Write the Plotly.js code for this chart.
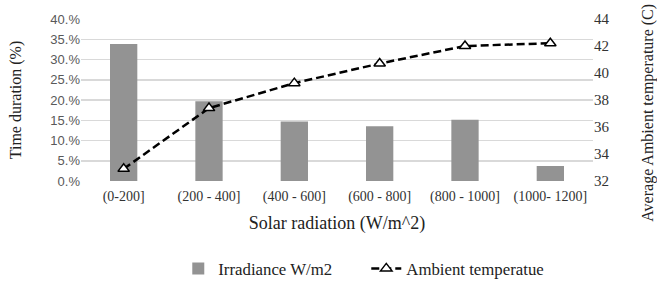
<!DOCTYPE html>
<html><head><meta charset="utf-8">
<script src="https://cdn.plot.ly/plotly-3.0.1.min.js"></script>
<style>html,body{margin:0;padding:0;background:#fff}#c{width:657px;height:281px}</style>
</head><body><div id="c"></div>
<script>
const categories = ["(0-200]", "(200 - 400]", "(400 - 600]", "(600 - 800]", "(800 - 1000]", "(1000- 1200]"];
const durationPct = [0.338, 0.197, 0.147, 0.135, 0.151, 0.037];
const ambientTemp = [32.9, 37.4, 39.25, 40.7, 42.0, 42.2];
const leftTickVals = [0, 0.05, 0.10, 0.15, 0.20, 0.25, 0.30, 0.35, 0.40];
const leftTickText = ["0.%", "5.%", "10.%", "15.%", "20.%", "25.%", "30.%", "35.%", "40.%"];
const rightTickVals = [32, 34, 36, 38, 40, 42, 44];

const serif = "'Liberation Serif', 'Times New Roman', serif";
const traces = [
  {type: "bar", x: categories, y: durationPct, name: "Irradiance W/m2",
   marker: {color: "#939393"}, width: 0.32, yaxis: "y"},
  {type: "scatter", mode: "lines+markers", x: categories, y: ambientTemp, name: "Ambient temperatue",
   yaxis: "y2", line: {color: "#000", width: 2.5, dash: "8px,4px"},
   marker: {symbol: "triangle-up", size: 10, color: "#fff", line: {color: "#000", width: 1.5}}}
];
const layout = {
  width: 657, height: 281,
  margin: {l: 81, r: 64, t: 19, b: 100, autoexpand: false},
  paper_bgcolor: "#fff", plot_bgcolor: "#fff",
  showlegend: true,
  legend: {orientation: "h", x: 0.19, xanchor: "left", y: -0.54, yanchor: "middle",
           entrywidth: 143, entrywidthmode: "pixels",
           font: {family: serif, size: 16.8, color: "#222"}, traceorder: "normal"},
  xaxis: {type: "category", showgrid: false, zeroline: false, showline: false, ticks: "",
          automargin: true, ticklabelstandoff: 5,
          tickfont: {family: serif, size: 14, color: "#333"},
          title: {text: "Solar radiation (W/m^2)", font: {family: serif, size: 18, color: "#222"}, standoff: 12}},
  yaxis: {range: [0, 0.4], tickvals: leftTickVals, ticktext: leftTickText, automargin: true,
          gridcolor: "#d9d9d9", gridwidth: 1.5, zeroline: false, showline: false, ticks: "",
          tickfont: {family: "'Liberation Sans', Arial, sans-serif", size: 13, color: "#595959"},
          title: {text: "Time duration (%)", font: {family: serif, size: 16, color: "#222"}, standoff: 24}},
  yaxis2: {overlaying: "y", side: "right", range: [32, 44], tickvals: rightTickVals, automargin: true,
           showgrid: false, zeroline: false, showline: false, ticks: "",
           tickfont: {family: serif, size: 15, color: "#333"}},
  annotations: [{text: "Average Ambient temperature (C)", textangle: -90, showarrow: false,
                 xref: "paper", yref: "paper", x: 1.107, y: 0.42, xanchor: "center", yanchor: "middle",
                 font: {family: serif, size: 16, color: "#222"}}],
  bargap: 0.68
};
Plotly.newPlot("c", traces, layout, {displayModeBar: false, staticPlot: true});
</script></body></html>
